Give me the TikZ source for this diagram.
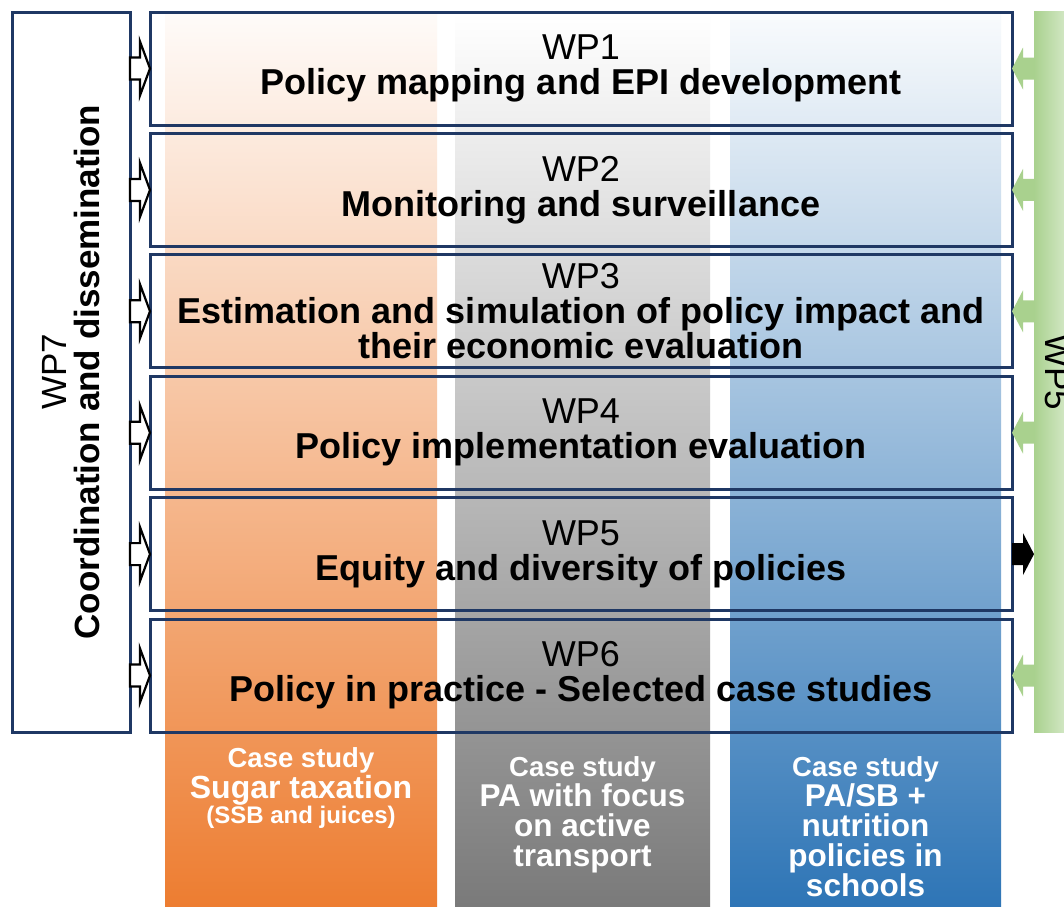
\documentclass[tikz,border=0pt]{standalone}
\usepackage{fontspec}
\setmainfont{Liberation Sans}
\usetikzlibrary{positioning}

\definecolor{wpnavy}{HTML}{1F3864}
\definecolor{caseorange}{HTML}{ED7D31}
\definecolor{casegray}{HTML}{7A7A7A}
\definecolor{caseblue}{HTML}{2E75B6}
\definecolor{evalgreen}{HTML}{A9D18E}

\begin{document}
\begin{tikzpicture}[x=1pt,y=-1pt,
    wpbox/.style={draw=wpnavy, line width=3pt, minimum width=862pt, minimum height=113pt,
      inner sep=0pt, outer sep=0pt, align=center, font=\fontsize{36}{35}\selectfont},
    coordbox/.style={draw=wpnavy, fill=white, line width=3pt, minimum width=118pt,
      minimum height=720pt, inner sep=0pt, outer sep=0pt},
    evalbar/.style={left color=evalgreen, right color=evalgreen!45, minimum width=36pt,
      minimum height=721pt, inner sep=0pt, outer sep=0pt},
    casetext/.style={anchor=north, inner sep=0pt, align=center, text=white,
      font=\bfseries\fontsize{31.5}{30}\selectfont},
    openarrow/.style={draw=black, fill=white, line width=2.2pt},
    greenarrow/.style={fill=evalgreen},
    blackarrow/.style={fill=black}]
  \useasboundingbox (0,0) rectangle (1064,906);
  \fill[white] (0,0) rectangle (1064,906);

  % case study columns behind the work packages
  \fill[top color=caseorange!3, bottom color=caseorange] (165,13) rectangle (437,906);
  \fill[top color=white, bottom color=casegray] (455,13) rectangle (710,906);
  \fill[top color=caseblue!3, bottom color=caseblue] (730,13) rectangle (1001,906);

  % work packages
  \node[wpbox] (wp1) at (581,68.5) {WP1\\\textbf{Policy mapping and EPI development}};
  \node[wpbox, below=8.4pt of wp1] (wp2) {WP2\\\textbf{Monitoring and surveillance}};
  \node[wpbox, below=8.4pt of wp2] (wp3) {WP3\\\textbf{Estimation and simulation of policy impact and}\\\textbf{their economic evaluation}};
  \node[wpbox, below=8.4pt of wp3] (wp4) {WP4\\\textbf{Policy implementation evaluation}};
  \node[wpbox, below=8.4pt of wp4] (wp5) {WP5\\\textbf{Equity and diversity of policies}};
  \node[wpbox, below=8.4pt of wp5] (wp6) {WP6\\\textbf{Policy in practice - Selected case studies}};

  % coordination on the left, evaluation bar on the right
  \node[coordbox] (wp7) at (71,372) {};
  \node[rotate=90, align=center, inner sep=0pt, font=\fontsize{35}{33}\selectfont] (wp7text) at (wp7.center)
    {WP7\\\textbf{Coordination and dissemination}};
  \node[evalbar] (eval) at (1052,371.5) {};
  \node[rotate=-90, anchor=base, inner sep=0pt, font=\fontsize{35}{35}\selectfont] (evaltext) at (1045,372) {WP5};

  % block arrows
  \foreach \i in {1,...,6}
    \draw[openarrow] (wp7.east |- wp\i.west) ++(0,-11) -- ++(10,0) -- ++(0,-16) -- (wp\i.west)
      -- ++(-10,27) -- ++(0,-16) -- ++(-10,0) -- cycle;
  \foreach \i in {1,2,3,4,6}
    \fill[greenarrow] (eval.west |- wp\i.east) ++(0,-11) -- ++(-11,0) -- ++(0,-10) -- (wp\i.east)
      -- ++(11,21) -- ++(0,-10) -- ++(11,0) -- cycle;
  \fill[blackarrow] (wp5.east) ++(0,-11) -- ++(11,0) -- ++(0,-10) -- (eval.west |- wp5.east)
    -- ++(-11,21) -- ++(0,-10) -- ++(-11,0) -- cycle;

  % case studies
  \node[casetext, font=\bfseries\fontsize{27.5}{31}\selectfont] (sugar) at (301,747)
    {Case study\\{\fontsize{32}{31}\selectfont Sugar taxation}\\[-6pt]{\fontsize{24}{25}\selectfont (SSB and juices)}};
  \node[casetext, font=\bfseries\fontsize{31.5}{30}\selectfont] (active) at (582.5,756)
    {{\fontsize{27.5}{28}\selectfont Case study}\\PA with focus\\on active\\transport};
  \node[casetext] (school) at (865.5,756)
    {{\fontsize{27.5}{28}\selectfont Case study}\\PA/SB +\\nutrition\\policies in\\schools};
\end{tikzpicture}
\end{document}
